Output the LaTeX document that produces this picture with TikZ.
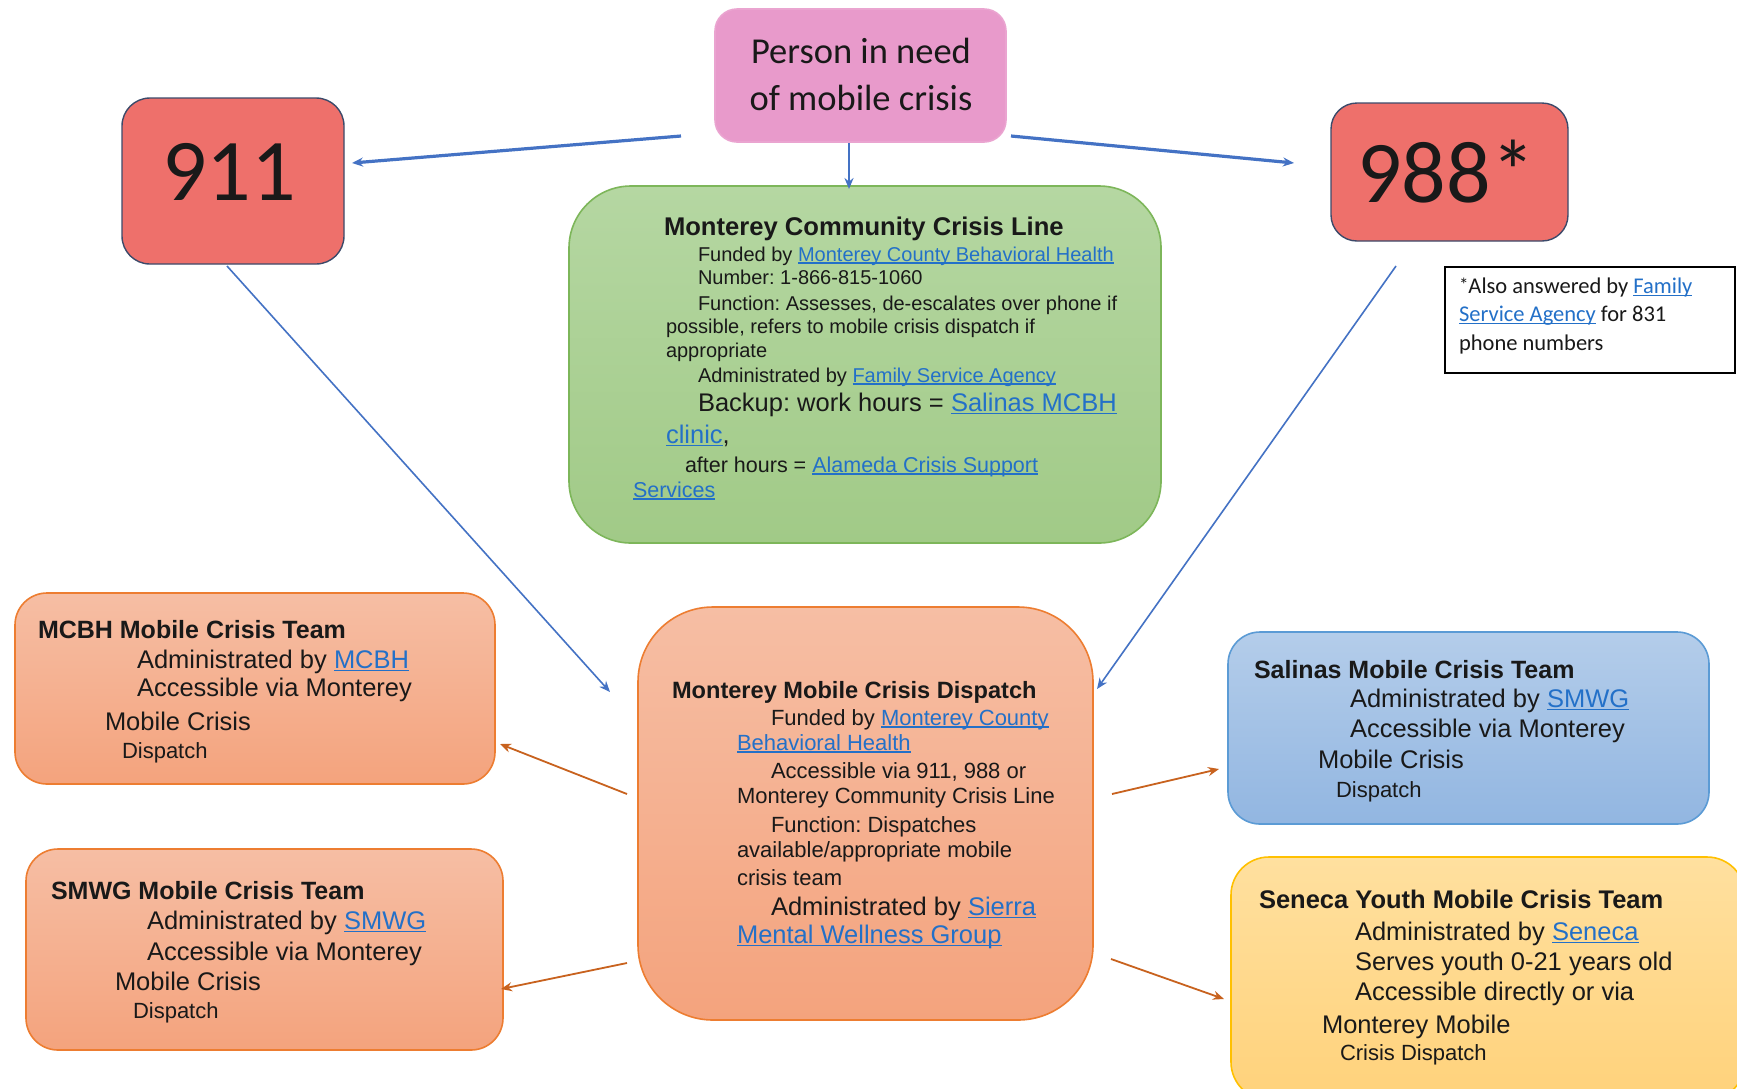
\documentclass[tikz,border=0pt]{standalone}
\usepackage{fontspec}
\setmainfont{Liberation Sans}
\newfontfamily\calfont{Carlito}
\usetikzlibrary{arrows.meta}
\definecolor{lnk}{HTML}{2370C8}
\definecolor{arrblue}{HTML}{4472C4}
\definecolor{arrorange}{HTML}{C8621E}
\definecolor{orangetop}{HTML}{F6BEA4}
\definecolor{orangebot}{HTML}{F4A37D}
\definecolor{orangeline}{HTML}{ED7D31}
\definecolor{greentop}{HTML}{B5D7A2}
\definecolor{greenbot}{HTML}{A1CA87}
\definecolor{greenline}{HTML}{7DB65A}
\definecolor{bluetop}{HTML}{B4CDEA}
\definecolor{bluebot}{HTML}{92B6E1}
\definecolor{blueline}{HTML}{5B9BD5}
\definecolor{yeltop}{HTML}{FFE09F}
\definecolor{yelbot}{HTML}{FFD27B}
\definecolor{yelline}{HTML}{FFC000}
\definecolor{pinkfill}{HTML}{E89ACB}
\definecolor{redfill}{HTML}{EE706B}
\definecolor{redline}{HTML}{3C4A6A}
\newsavebox{\lkbox}
\newcommand{\lk}[1]{\textcolor{lnk}{\sbox{\lkbox}{#1}\rlap{\rule[-0.13em]{\wd\lkbox}{1.4pt}}\usebox{\lkbox}}}
\newcommand{\fs}[1]{\fontsize{#1}{#1}\selectfont}
\frenchspacing
\tikzset{
  ln/.style={anchor=base west, inner sep=0pt, outer sep=0pt, text=black!90},
  cn/.style={anchor=base, inner sep=0pt, outer sep=0pt, text=black!90},
  boxbase/.style={shape=rectangle, inner sep=0pt, line width=1.6pt},
  bluearr/.style={draw=arrblue, -{Stealth[length=11pt,width=9pt]}},
  orarr/.style={draw=arrorange, line width=1.8pt, -{Stealth[length=11pt,width=9pt]}},
}
\begin{document}
\begin{tikzpicture}[x=1pt,y=-1pt]
\useasboundingbox (0,0) rectangle (1737,1088);
\clip (0,0) rectangle (1737,1088);
\fill[white] (0,0) rectangle (1737,1088);

% ---------- boxes ----------
\node[boxbase, rounded corners=22pt, fill=pinkfill, draw=pinkfill!90!white, minimum width=291pt, minimum height=133pt] (pink) at (860.5,75.5) {};
\node[boxbase, rounded corners=28pt, fill=redfill, draw=redline, line width=1.4pt, minimum width=222pt, minimum height=166pt] (n911) at (233,181) {};
\node[boxbase, rounded corners=26pt, fill=redfill, draw=redline, line width=1.4pt, minimum width=237pt, minimum height=138pt] (n988) at (1449.5,172) {};
\node[boxbase, draw=black, line width=2pt, fill=white, minimum width=290pt, minimum height=106pt] (note) at (1590,320) {};
\node[boxbase, rounded corners=62pt, top color=greentop, bottom color=greenbot, draw=greenline, minimum width=592pt, minimum height=357pt] (green) at (865,364.5) {};
\node[boxbase, rounded corners=75pt, top color=orangetop, bottom color=orangebot, draw=orangeline, minimum width=455pt, minimum height=413pt] (disp) at (865.5,813.5) {};
\node[boxbase, rounded corners=32pt, top color=orangetop, bottom color=orangebot, draw=orangeline, minimum width=480pt, minimum height=191pt] (mcbh) at (255,688.5) {};
\node[boxbase, rounded corners=32pt, top color=orangetop, bottom color=orangebot, draw=orangeline, minimum width=477pt, minimum height=201pt] (smwg) at (264.5,949.5) {};
\node[boxbase, rounded corners=32pt, top color=bluetop, bottom color=bluebot, draw=blueline, minimum width=481pt, minimum height=192pt] (salinas) at (1468.5,728) {};
\node[boxbase, rounded corners=38pt, top color=yeltop, bottom color=yelbot, draw=yelline, minimum width=514pt, minimum height=243pt] (seneca) at (1488,978.5) {};

% ---------- connectors ----------
\coordinate (a1s) at (681,136);  \coordinate (a1e) at (352,163);
\coordinate (a2s) at (1011,136); \coordinate (a2e) at (1294,163);
\coordinate (a3s) at (849,143);  \coordinate (a3e) at (849,189);
\coordinate (a4s) at (227,266);  \coordinate (a4e) at (610,692);
\coordinate (a5s) at (1396,266); \coordinate (a5e) at (1097,689);
\coordinate (o1s) at (627,794);  \coordinate (o1e) at (500,744);
\coordinate (o2s) at (627,963);  \coordinate (o2e) at (501,989);
\coordinate (o3s) at (1112,794); \coordinate (o3e) at (1219,769);
\coordinate (o4s) at (1111,959); \coordinate (o4e) at (1224,999);
\draw[bluearr, line width=3.2pt] (a1s) -- (a1e);
\draw[bluearr, line width=3.2pt] (a2s) -- (a2e);
\draw[bluearr, line width=2pt] (a3s) -- (a3e);
\draw[bluearr, line width=1.6pt] (a4s) -- (a4e);
\draw[bluearr, line width=1.6pt] (a5s) -- (a5e);
\draw[orarr] (o1s) -- (o1e);
\draw[orarr] (o2s) -- (o2e);
\draw[orarr] (o3s) -- (o3e);
\draw[orarr] (o4s) -- (o4e);

% ---------- pink / 911 / 988 / note ----------
\node[cn, font=\calfont\fs{36.5}] (p1) at (861,63) {Person in need};
\node[cn, font=\calfont\fs{36.5}] (p2) at (861,110) {of mobile crisis};
\node[cn, font=\calfont\fs{88}] (t911) at (229,200) {911};
\node[cn, font=\calfont\fs{88}] (t988) at (1446,202) {988*};
\node[ln, font=\calfont\fs{22.5}] (nt1) at (1459,293) {\raisebox{2pt}{\fs{19}*}Also answered by \lk{Family}};
\node[ln, font=\calfont\fs{22.5}] (nt2) at (1459,321) {\lk{Service Agency} for 831};
\node[ln, font=\calfont\fs{22.5}] (nt3) at (1459,350) {phone numbers};

% ---------- green box text ----------
\node[ln, font=\bfseries\fs{25.6}] (g1) at (664,235) {Monterey Community Crisis Line};
\node[ln, font=\fs{20}] (g2) at (698,261) {Funded by \lk{Monterey County Behavioral Health}};
\node[ln, font=\fs{20}] (g3) at (698,284) {Number: 1-866-815-1060};
\node[ln, font=\fs{20}] (g4) at (698,310) {Function: Assesses, de-escalates over phone if};
\node[ln, font=\fs{20}] (g5) at (666,333) {possible, refers to mobile crisis dispatch if};
\node[ln, font=\fs{20}] (g6) at (666,357) {appropriate};
\node[ln, font=\fs{20}] (g7) at (698,382) {Administrated by \lk{Family Service Agency}};
\node[ln, font=\fs{25.5}] (g8) at (698,411) {Backup: work hours = \lk{Salinas MCBH}};
\node[ln, font=\fs{25.5}] (g9) at (666,443) {\lk{clinic},};
\node[ln, font=\fs{21.5}] (g10) at (685,472) {after hours = \lk{Alameda Crisis Support}};
\node[ln, font=\fs{21.5}] (g11) at (633,497) {\lk{Services}};

% ---------- dispatch box text ----------
\node[ln, font=\bfseries\fs{23.6}] (d1) at (672,698) {Monterey Mobile Crisis Dispatch};
\node[ln, font=\fs{22}] (d2) at (771,725) {Funded by \lk{Monterey County}};
\node[ln, font=\fs{22}] (d3) at (737,750) {\lk{Behavioral Health}};
\node[ln, font=\fs{22}] (d4) at (771,778) {Accessible via 911, 988 or};
\node[ln, font=\fs{22}] (d5) at (737,803) {Monterey Community Crisis Line};
\node[ln, font=\fs{22}] (d6) at (771,832) {Function: Dispatches};
\node[ln, font=\fs{22}] (d7) at (737,857) {available/appropriate mobile};
\node[ln, font=\fs{22}] (d8) at (737,885) {crisis team};
\node[ln, font=\fs{25.5}] (d9) at (771,915) {Administrated by \lk{Sierra}};
\node[ln, font=\fs{25.5}] (d10) at (737,943) {\lk{Mental Wellness Group}};

% ---------- MCBH ----------
\node[ln, font=\bfseries\fs{25}] (m1) at (38,638) {MCBH Mobile Crisis Team};
\node[ln, font=\fs{25.5}] (m2) at (137,668) {Administrated by \lk{MCBH}};
\node[ln, font=\fs{25.5}] (m3) at (137,696) {Accessible via Monterey};
\node[ln, font=\fs{25.5}] (m4) at (105,730) {Mobile Crisis};
\node[ln, font=\fs{22}] (m5) at (122,758) {Dispatch};

% ---------- SMWG ----------
\node[ln, font=\bfseries\fs{25}] (s1) at (51,899) {SMWG Mobile Crisis Team};
\node[ln, font=\fs{25.5}] (s2) at (147,929) {Administrated by \lk{SMWG}};
\node[ln, font=\fs{25.5}] (s3) at (147,960) {Accessible via Monterey};
\node[ln, font=\fs{25.5}] (s4) at (115,990) {Mobile Crisis};
\node[ln, font=\fs{22}] (s5) at (133,1018) {Dispatch};

% ---------- Salinas ----------
\node[ln, font=\bfseries\fs{25}] (sa1) at (1254,678) {Salinas Mobile Crisis Team};
\node[ln, font=\fs{25.5}] (sa2) at (1350,707) {Administrated by \lk{SMWG}};
\node[ln, font=\fs{25.5}] (sa3) at (1350,737) {Accessible via Monterey};
\node[ln, font=\fs{25.5}] (sa4) at (1318,768) {Mobile Crisis};
\node[ln, font=\fs{22}] (sa5) at (1336,797) {Dispatch};

% ---------- Seneca ----------
\node[ln, font=\bfseries\fs{25.5}] (se1) at (1259,908) {Seneca Youth Mobile Crisis Team};
\node[ln, font=\fs{25.5}] (se2) at (1355,940) {Administrated by \lk{Seneca}};
\node[ln, font=\fs{25.5}] (se3) at (1355,970) {Serves youth 0-21 years old};
\node[ln, font=\fs{25.5}] (se4) at (1355,1000) {Accessible directly or via};
\node[ln, font=\fs{25.5}] (se5) at (1322,1033) {Monterey Mobile};
\node[ln, font=\fs{22}] (se6) at (1340,1060) {Crisis Dispatch};
\end{tikzpicture}
\end{document}
